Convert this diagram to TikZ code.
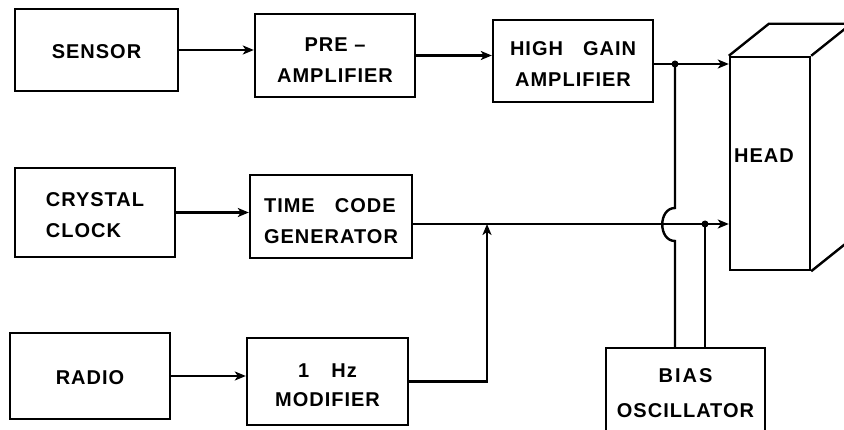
\documentclass[tikz,border=0pt]{standalone}
\usepackage{fontspec}
\newfontfamily\lab[LetterSpace=5]{Liberation Sans}
\usetikzlibrary{arrows.meta}
\begin{document}
\begin{tikzpicture}[x=1pt,y=-1pt,
  blk/.style={draw, line width=2.4pt, inner sep=0pt},
  txt/.style={inner sep=0pt, align=center,
    font=\lab\bfseries\fontsize{20}{31}\selectfont},
  conn/.style={line width=2.4pt},
  arr/.style={conn, -{Stealth[length=11pt,width=9pt,inset=3pt]}},
  jdot/.style={circle, fill, inner sep=0pt, minimum size=7pt}]
\useasboundingbox (0,0) rectangle (844,430);
\clip (0,0) rectangle (844,430);
% blocks
\node[blk, minimum width=163pt, minimum height=82pt] (sensor) at (96.5,50) {};
\node[blk, minimum width=160pt, minimum height=83pt] (pre) at (335,55.5) {};
\node[blk, minimum width=160pt, minimum height=82pt] (hga) at (573,61) {};
\node[blk, minimum width=80pt, minimum height=213pt] (head) at (770,163.5) {};
\node[blk, minimum width=160pt, minimum height=89pt] (crystal) at (95,212.5) {};
\node[blk, minimum width=162pt, minimum height=83pt] (tcg) at (331,216.5) {};
\node[blk, minimum width=160pt, minimum height=86pt] (radio) at (90,376) {};
\node[blk, minimum width=161pt, minimum height=87pt] (mod) at (327.5,381.5) {};
\node[blk, minimum width=159pt, minimum height=84pt] (bias) at (685.5,390) {};
% labels
\node[txt] (sensorT) at ([yshift=-2pt]sensor.center) {SENSOR};
\node[txt] (preT) at ([yshift=-5pt]pre.center) {PRE –\\AMPLIFIER};
\node[txt] (hgaT) at ([yshift=-3pt]hga.center) {HIGH\hspace{20pt}GAIN\\AMPLIFIER};
\node[txt] (headT) at ([xshift=-6pt,yshift=8pt]head.center) {HEAD};
\node[txt, align=left] (crystalT) at ([yshift=-3pt]crystal.center) {CRYSTAL\\CLOCK};
\node[txt, align=left] (tcgT) at ([yshift=-5pt]tcg.center) {TIME\hspace{20pt}CODE\\GENERATOR};
\node[txt] (radioT) at ([yshift=-2pt]radio.center) {RADIO};
\node[txt, font=\lab\bfseries\fontsize{20}{29}\selectfont] (modT) at ([yshift=-4pt]mod.center) {1\hspace{22pt}Hz\\MODIFIER};
\node[txt, font=\lab\bfseries\fontsize{20}{35}\selectfont] (biasT) at ([yshift=-3pt]bias.center) {B\kern2pt I\kern2pt A\kern2pt S\\OSCILLATOR};
% 3D head box edges
\draw[conn] (head.north west) -- ++(40,-32) coordinate (hb) -- (hb -| 900,0);
\draw[conn] (head.north east) -- ++(40,-32);
\draw[conn] (head.south east) -- ++(40,-32);
% named points
\coordinate (j1) at (675,64);
\coordinate (tl) at (487,224);
\coordinate (j2) at (705,224);
\coordinate (ja) at (675,208);
\coordinate (jb) at (675,241);
% connectors
\draw[arr] (sensor.east) -- (sensor.east -| pre.west);
\draw[arr] (pre.east) -- (pre.east -| hga.west);
\draw[conn] (hga.east |- j1) -- (j1);
\draw[arr] (j1) -- (j1 -| head.west);
\draw[arr] (crystal.east) -- (crystal.east -| tcg.west);
\draw[conn] (tcg.east |- tl) -- (tl);
\draw[arr] (tl) -- (tl -| head.west);
\draw[arr] (radio.east) -- (radio.east -| mod.west);
\draw[arr] (mod.east) -- (mod.east -| tl) -- (tl);
\draw[conn] (j1) -- (ja) .. controls (658,208) and (658,241) .. (jb) -- (jb |- bias.north);
\draw[conn] (j2) -- (j2 |- bias.north);
\node[jdot] at (j1) {};
\node[jdot] at (j2) {};
\end{tikzpicture}
\end{document}
